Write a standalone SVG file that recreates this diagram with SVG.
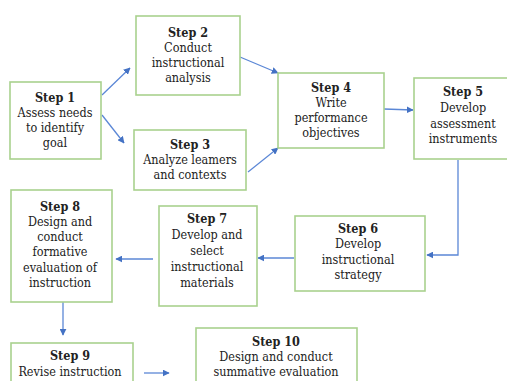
<svg xmlns="http://www.w3.org/2000/svg" width="507" height="381" viewBox="0 0 507 381">
<defs>
<style>
.box{fill:#fff;stroke:#a9d18e;stroke-width:1.6}
text{font-family:"DejaVu Serif Condensed","DejaVu Serif",serif;font-stretch:condensed;font-size:12.5px;fill:#222;text-anchor:middle}
.b{font-weight:bold}
.c{fill:none;stroke:#5b87d6;stroke-width:1.3;marker-end:url(#ah)}
</style>
<marker id="ah" viewBox="0 0 10 10" refX="9" refY="5" markerWidth="7" markerHeight="7" markerUnits="userSpaceOnUse" orient="auto">
<path d="M0,0 L10,5 L0,10 z" fill="#4472c4"/>
</marker>
</defs>
<rect width="507" height="381" fill="#fff"/>
<g id="connectors">
<path class="c" d="M102,95 L130,68"/>
<path class="c" d="M102,115 L124,143"/>
<path class="c" d="M240,57 L278,73"/>
<path class="c" d="M248,172 L278,148"/>
<path class="c" d="M384,109 L413,110"/>
<path class="c" d="M458,160 L458,255 L427,255"/>
<path class="c" d="M294,258 L258,258"/>
<path class="c" d="M153,259 L116,259"/>
<path class="c" d="M63,302 L63,335"/>
<path class="c" d="M144,373 L169,373"/>
</g>
<g id="step1"><rect class="box" x="10" y="82" width="91" height="77"/>
<text x="55" y="102"><tspan class="b">Step 1</tspan><tspan x="55" dy="15">Assess needs</tspan><tspan x="55" dy="15">to identify</tspan><tspan x="55" dy="15">goal</tspan></text></g>
<g id="step2"><rect class="box" x="136" y="16" width="104" height="79"/>
<text x="188" y="37"><tspan class="b">Step 2</tspan><tspan x="188" dy="15">Conduct</tspan><tspan x="188" dy="15">instructional</tspan><tspan x="188" dy="15">analysis</tspan></text></g>
<g id="step3"><rect class="box" x="134" y="130" width="112" height="60"/>
<text x="190" y="149"><tspan class="b">Step 3</tspan><tspan x="190" dy="15">Analyze leamers</tspan><tspan x="190" dy="15">and contexts</tspan></text></g>
<g id="step4"><rect class="box" x="278" y="73" width="106" height="75"/>
<text x="331" y="92"><tspan class="b">Step 4</tspan><tspan x="331" dy="15">Write</tspan><tspan x="331" dy="15">performance</tspan><tspan x="331" dy="15">objectives</tspan></text></g>
<g id="step5"><rect class="box" x="414" y="78" width="96" height="81"/>
<text x="463" y="96"><tspan class="b">Step 5</tspan><tspan x="463" dy="16">Develop</tspan><tspan x="463" dy="16">assessment</tspan><tspan x="463" dy="15">instruments</tspan></text></g>
<g id="step6"><rect class="box" x="295" y="216" width="130" height="75"/>
<text x="358" y="233"><tspan class="b">Step 6</tspan><tspan x="358" dy="15">Develop</tspan><tspan x="358" dy="16">instructional</tspan><tspan x="358" dy="15">strategy</tspan></text></g>
<g id="step7"><rect class="box" x="159" y="206" width="98" height="100"/>
<text x="207" y="223"><tspan class="b">Step 7</tspan><tspan x="207" dy="16">Develop and</tspan><tspan x="207" dy="16">select</tspan><tspan x="207" dy="16">instructional</tspan><tspan x="207" dy="16">materials</tspan></text></g>
<g id="step8"><rect class="box" x="11" y="190" width="101" height="112"/>
<text x="60" y="211"><tspan class="b">Step 8</tspan><tspan x="60" dy="15">Design and</tspan><tspan x="60" dy="15">conduct</tspan><tspan x="60" dy="15">formative</tspan><tspan x="60" dy="16">evaluation of</tspan><tspan x="60" dy="15">instruction</tspan></text></g>
<g id="step9"><rect class="box" x="11" y="343" width="122" height="45"/>
<text x="70" y="360"><tspan class="b">Step 9</tspan><tspan x="70" dy="16">Revise instruction</tspan></text></g>
<g id="step10"><rect class="box" x="196" y="328" width="161" height="60"/>
<text x="276" y="346"><tspan class="b">Step 10</tspan><tspan x="276" dy="14.5">Design and conduct</tspan><tspan x="276" dy="15">summative evaluation</tspan></text></g>
</svg>
